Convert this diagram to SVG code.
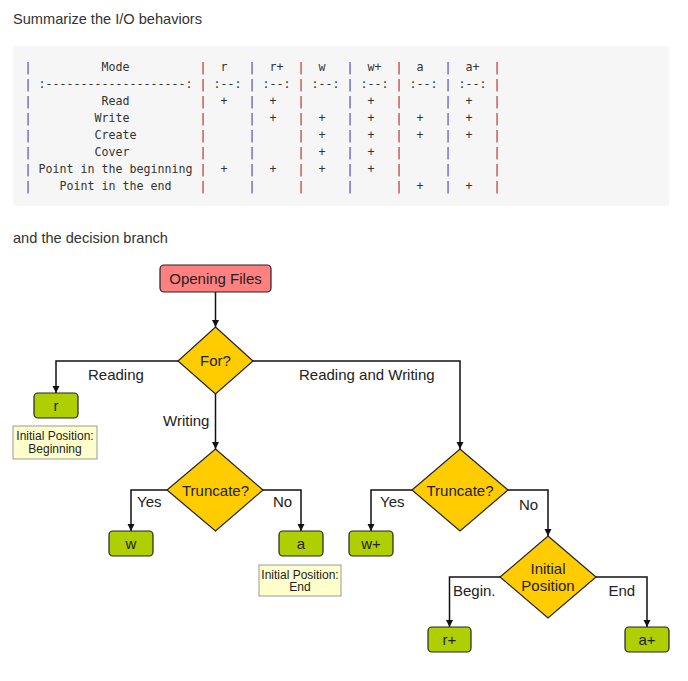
<svg xmlns="http://www.w3.org/2000/svg" width="688" height="681" viewBox="0 0 688 681">
<defs>
<style>
.h{font-family:"Liberation Sans",Arial,sans-serif;font-size:14.6px;fill:#333}
.m{font-family:"DejaVu Sans Mono","Liberation Mono",monospace;font-size:11.63px;fill:#333;white-space:pre}
.p{fill:#6e2f6a}
.t{font-family:"Liberation Sans",Arial,sans-serif;font-size:15px;fill:#222}
.c{text-anchor:middle}
.n{font-family:"Liberation Sans",Arial,sans-serif;font-size:12px;fill:#222;text-anchor:middle}
.start{fill:#ff8080;stroke:#222;stroke-width:1.2}
.leaf{fill:#afcf00;stroke:#222;stroke-width:1.2}
.dec{fill:#ffcc00;stroke:#222;stroke-width:1.2}
.note{fill:#ffffcc;stroke:#999;stroke-width:1}
.edge{fill:none;stroke:#111;stroke-width:1.5}
</style>
<marker id="arr" viewBox="0 0 10 10" refX="10" refY="5" markerWidth="7" markerHeight="9" markerUnits="userSpaceOnUse" orient="auto">
<path d="M0,0 L10,5 L0,10 z" fill="#111"/>
</marker>
</defs>
<rect width="688" height="681" fill="#fff"/>
<text class="h" x="13" y="24">Summarize the I/O behaviors</text>
<g id="table">
<rect x="13" y="46" width="656" height="160" rx="4" fill="#f6f6f6"/>
<text class="m" x="24.5" y="71" xml:space="preserve"><tspan class="p">|</tspan>          Mode          <tspan class="p">|</tspan>  r   <tspan class="p">|</tspan>  r+  <tspan class="p">|</tspan>  w   <tspan class="p">|</tspan>  w+  <tspan class="p">|</tspan>  a   <tspan class="p">|</tspan>  a+  <tspan class="p">|</tspan></text>
<text class="m" x="24.5" y="88" xml:space="preserve"><tspan class="p">|</tspan> :--------------------: <tspan class="p">|</tspan> :--: <tspan class="p">|</tspan> :--: <tspan class="p">|</tspan> :--: <tspan class="p">|</tspan> :--: <tspan class="p">|</tspan> :--: <tspan class="p">|</tspan> :--: <tspan class="p">|</tspan></text>
<text class="m" x="24.5" y="105" xml:space="preserve"><tspan class="p">|</tspan>          Read          <tspan class="p">|</tspan>  +   <tspan class="p">|</tspan>  +   <tspan class="p">|</tspan>      <tspan class="p">|</tspan>  +   <tspan class="p">|</tspan>      <tspan class="p">|</tspan>  +   <tspan class="p">|</tspan></text>
<text class="m" x="24.5" y="122" xml:space="preserve"><tspan class="p">|</tspan>         Write          <tspan class="p">|</tspan>      <tspan class="p">|</tspan>  +   <tspan class="p">|</tspan>  +   <tspan class="p">|</tspan>  +   <tspan class="p">|</tspan>  +   <tspan class="p">|</tspan>  +   <tspan class="p">|</tspan></text>
<text class="m" x="24.5" y="139" xml:space="preserve"><tspan class="p">|</tspan>         Create         <tspan class="p">|</tspan>      <tspan class="p">|</tspan>      <tspan class="p">|</tspan>  +   <tspan class="p">|</tspan>  +   <tspan class="p">|</tspan>  +   <tspan class="p">|</tspan>  +   <tspan class="p">|</tspan></text>
<text class="m" x="24.5" y="156" xml:space="preserve"><tspan class="p">|</tspan>         Cover          <tspan class="p">|</tspan>      <tspan class="p">|</tspan>      <tspan class="p">|</tspan>  +   <tspan class="p">|</tspan>  +   <tspan class="p">|</tspan>      <tspan class="p">|</tspan>      <tspan class="p">|</tspan></text>
<text class="m" x="24.5" y="173" xml:space="preserve"><tspan class="p">|</tspan> Point in the beginning <tspan class="p">|</tspan>  +   <tspan class="p">|</tspan>  +   <tspan class="p">|</tspan>  +   <tspan class="p">|</tspan>  +   <tspan class="p">|</tspan>      <tspan class="p">|</tspan>      <tspan class="p">|</tspan></text>
<text class="m" x="24.5" y="190" xml:space="preserve"><tspan class="p">|</tspan>    Point in the end    <tspan class="p">|</tspan>      <tspan class="p">|</tspan>      <tspan class="p">|</tspan>      <tspan class="p">|</tspan>      <tspan class="p">|</tspan>  +   <tspan class="p">|</tspan>  +   <tspan class="p">|</tspan></text>
</g>
<text class="h" x="13" y="243">and the decision branch</text>
<g id="connectors">
<path class="edge" d="M215.5,292 V327" marker-end="url(#arr)"/>
<path class="edge" d="M178,361 H56 V393" marker-end="url(#arr)"/>
<path class="edge" d="M215.5,394 V449" marker-end="url(#arr)"/>
<path class="edge" d="M253,361 H460 V449" marker-end="url(#arr)"/>
<path class="edge" d="M167,490 H131 V531" marker-end="url(#arr)"/>
<path class="edge" d="M263,490 H301 V531" marker-end="url(#arr)"/>
<path class="edge" d="M412,490 H371 V531" marker-end="url(#arr)"/>
<path class="edge" d="M508,490 H548 V536" marker-end="url(#arr)"/>
<path class="edge" d="M500,577 H449.5 V627" marker-end="url(#arr)"/>
<path class="edge" d="M596,577 H647 V627" marker-end="url(#arr)"/>
<text class="t" x="88" y="380">Reading</text>
<text class="t" x="163" y="426">Writing</text>
<text class="t" x="299" y="380">Reading and Writing</text>
<text class="t" x="137" y="507">Yes</text>
<text class="t" x="273" y="507">No</text>
<text class="t" x="380" y="507">Yes</text>
<text class="t" x="519" y="509.5">No</text>
<text class="t" x="453" y="596">Begin.</text>
<text class="t" x="608.5" y="596">End</text>
</g>
<g id="opening">
<rect class="start" x="160" y="265" width="111" height="27" rx="4"/>
<text class="t c" x="215.5" y="283.5">Opening Files</text>
</g>
<g id="for">
<polygon class="dec" points="215.5,327 253,361 215.5,394 178,361"/>
<text class="t c" x="215.5" y="366">For?</text>
</g>
<g id="r">
<rect class="leaf" x="34" y="393" width="44" height="25" rx="4"/>
<text class="t c" x="56" y="411">r</text>
</g>
<g id="note-begin">
<rect class="note" x="13" y="426" width="84" height="33"/>
<text class="n" x="55" y="440">Initial Position:</text>
<text class="n" x="55" y="453">Beginning</text>
</g>
<g id="truncate1">
<polygon class="dec" points="215.5,449 263,490 215.5,531 167,490"/>
<text class="t c" x="215.5" y="495.5">Truncate?</text>
</g>
<g id="w">
<rect class="leaf" x="109" y="531" width="44" height="25" rx="4"/>
<text class="t c" x="131" y="549">w</text>
</g>
<g id="a">
<rect class="leaf" x="279" y="531" width="44" height="25" rx="4"/>
<text class="t c" x="301" y="549">a</text>
</g>
<g id="note-end">
<rect class="note" x="259" y="565" width="82" height="31"/>
<text class="n" x="300" y="578.5">Initial Position:</text>
<text class="n" x="300" y="591">End</text>
</g>
<g id="truncate2">
<polygon class="dec" points="460,449 508,490 460,531 412,490"/>
<text class="t c" x="460" y="495.5">Truncate?</text>
</g>
<g id="wplus">
<rect class="leaf" x="349" y="531" width="44" height="25" rx="4"/>
<text class="t c" x="371" y="549">w+</text>
</g>
<g id="position">
<polygon class="dec" points="548,536 596,577 548,618 500,577"/>
<text class="t c" x="548" y="573.5">Initial</text>
<text class="t c" x="548" y="591">Position</text>
</g>
<g id="rplus">
<rect class="leaf" x="428" y="627" width="43" height="25" rx="4"/>
<text class="t c" x="449.5" y="645">r+</text>
</g>
<g id="aplus">
<rect class="leaf" x="625" y="627" width="44" height="25" rx="4"/>
<text class="t c" x="647" y="645">a+</text>
</g>
</svg>
